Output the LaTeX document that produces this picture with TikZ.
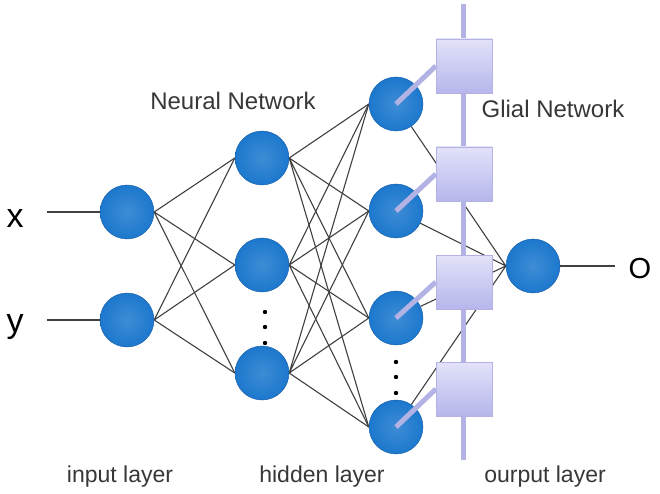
\documentclass[tikz,border=0pt]{standalone}
\usepackage{fontspec}
\setmainfont{Liberation Sans}
\usepackage{tikz}

\definecolor{neuronblue}{RGB}{28,120,205}
\definecolor{neuronedge}{RGB}{16,88,165}
\definecolor{glialilac}{RGB}{178,178,228}
\definecolor{glialtop}{RGB}{226,226,250}
\definecolor{glialbot}{RGB}{182,182,236}
\definecolor{labelgray}{RGB}{55,55,55}

\pgfdeclarelayer{back}
\pgfdeclarelayer{mid}
\pgfsetlayers{back,mid,main}

\begin{document}
\begin{tikzpicture}[x=1pt, y=-1pt,
    neuron/.style={circle, draw=neuronedge, thin, inner color=neuronblue!85!white, outer color=neuronblue, minimum size=54pt, inner sep=0pt},
    glia/.style={rectangle, draw=glialilac, top color=glialtop, bottom color=glialbot, minimum width=56pt, minimum height=54pt, inner sep=0pt},
    link/.style={black!75, line width=1.1pt},
    gliallink/.style={glialilac, line width=5pt},
    title/.style={text=labelgray, font=\fontsize{24}{28}\selectfont, anchor=base},
    layer/.style={text=labelgray, font=\fontsize{23}{27}\selectfont, anchor=base},
    io/.style={font=\fontsize{34}{38}\selectfont, anchor=base}]

    \useasboundingbox (0,0) rectangle (660,494);

    % Define the neurons of every layer
    \node[neuron] (in1) at (127,212) {};
    \node[neuron] (in2) at (127,320) {};
    \node[neuron] (h1) at (262,158) {};
    \node[neuron] (h2) at (262,265) {};
    \node[neuron] (h3) at (262,373) {};
    \node[neuron] (k1) at (396,104) {};
    \node[neuron] (k2) at (396,211) {};
    \node[neuron] (k3) at (396,318) {};
    \node[neuron] (k4) at (396,427) {};
    \node[neuron] (out) at (533,266) {};

    % Input and output values
    \node[io] (x) at (15,227) {x};
    \node[io] (y) at (15,332) {y};
    \node[io, font=\fontsize{29}{33}\selectfont] (o) at (640,278) {O};
    \coordinate (xin) at (47,212);
    \coordinate (yin) at (47,320);
    \coordinate (oend) at (615,266);
    \draw[link] (xin) -- (in1.west);
    \draw[link] (yin) -- (in2.west);
    \draw[link] (out.east) -- (oend);

    % Connections of the neural network (behind the neurons)
    \begin{pgfonlayer}{back}
    \draw[link] (in1.east) -- (h1.west) (in1.east) -- (h2.west) (in1.east) -- (h3.west);
    \draw[link] (in2.east) -- (h1.west) (in2.east) -- (h2.west) (in2.east) -- (h3.west);
    \draw[link] (h1.east) -- (k1.west) (h1.east) -- (k2.west) (h1.east) -- (k3.west) (h1.east) -- (k4.west);
    \draw[link] (h2.east) -- (k1.west) (h2.east) -- (k2.west) (h2.east) -- (k3.west) (h2.east) -- (k4.west);
    \draw[link] (h3.east) -- (k1.west) (h3.east) -- (k2.west) (h3.east) -- (k3.west) (h3.east) -- (k4.west);
    \draw[link] (k1) -- (out.west) (k2) -- (out.west) (k3) -- (out.west) (k4) -- (out.west);
    \end{pgfonlayer}

    % Glial backbone
    \begin{pgfonlayer}{mid}
    \coordinate (gtop) at (463,4);
    \coordinate (gbot) at (463,460);
    \draw[gliallink] (gtop) -- (gbot);
    \end{pgfonlayer}

    % Glial cells and their links to the last hidden layer
    \node[glia] (g1) at (464,66) {};
    \node[glia] (g2) at (464,174) {};
    \node[glia] (g3) at (464,282) {};
    \node[glia] (g4) at (464,389) {};
    \draw[gliallink] (k1.center) -- (g1.west);
    \draw[gliallink] (k2.center) -- (g2.west);
    \draw[gliallink] (k3.center) -- (g3.west);
    \draw[gliallink] (k4.center) -- (g4.west);

    % Vertical dots for omitted neurons
    \foreach \yy in {312,327,343}
        \fill (265,\yy) circle (2.2pt);
    \foreach \yy in {362,377,393}
        \fill (396,\yy) circle (2.2pt);

    % Titles and layer names
    \node[title] (nn) at (233,110) {Neural Network};
    \node[title] (gn) at (553,118) {Glial Network};
    \node[layer] (il) at (120,482) {input layer};
    \node[layer] (hl) at (322,482) {hidden layer};
    \node[layer] (ol) at (545,482) {ourput layer};
\end{tikzpicture}
\end{document}
